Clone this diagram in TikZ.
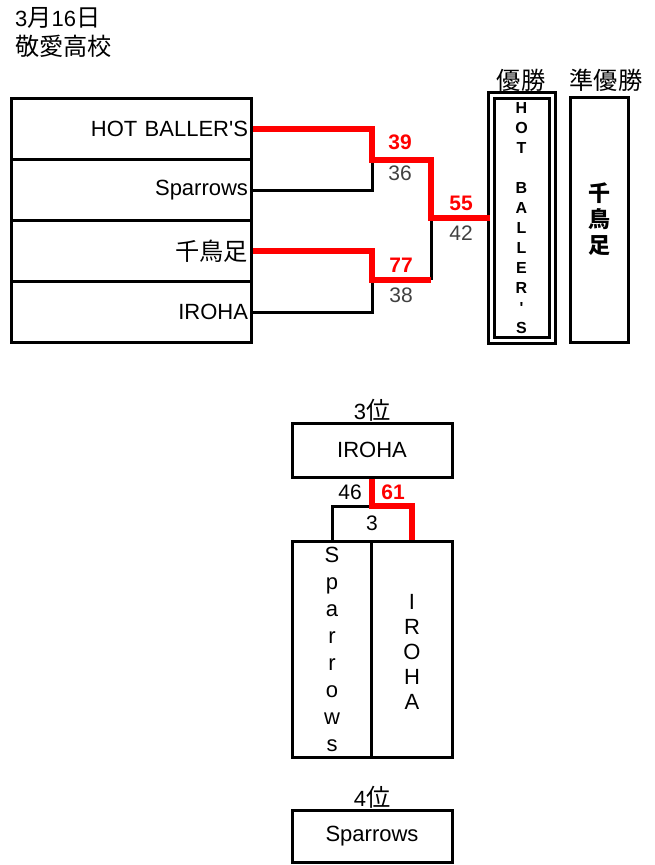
\documentclass[tikz,border=0pt]{standalone}
\usepackage{fontspec}
\setmainfont{Liberation Sans}
\newfontfamily\jpfont{Noto Sans CJK JP}[Scale=1.1]
\usetikzlibrary{positioning}
\definecolor{scoregray}{HTML}{404040}
\tikzset{
  team/.style={draw, line width=3pt, anchor=north west, text width=233pt, align=right,
    inner xsep=3.5pt, inner ysep=0pt, minimum height=61pt},
  box/.style={draw, line width=3pt, inner sep=0pt},
  winline/.style={red, line width=6.5pt},
  loseline/.style={black, line width=3pt},
  winscore/.style={red, font=\fontsize{21}{25}\selectfont\bfseries},
  losescore/.style={scoregray, font=\fontsize{21}{25}\selectfont},
  vert/.style={align=center},
}
\begin{document}
\begin{tikzpicture}[x=1pt, y=-1pt, inner sep=0pt, font=\fontsize{22}{26}\selectfont]
\useasboundingbox (0,0) rectangle (654,865);

% Title
\node[anchor=west] (date) at (15,18) {3{\jpfont 月}16{\jpfont 日}};
\node[anchor=west] (school) at (15,46) {\jpfont 敬愛高校};

% Teams
\node[team] (t1) at (10,97) {HOT BALLER\textquotesingle S};
\node[team] (t2) at (10,158) {Sparrows};
\node[team] (t3) at (10,219) {{\jpfont 千鳥足}};
\node[team] (t4) at (10,280) {IROHA};

% Winner and runner-up
\node[box, double, double distance=3pt, minimum width=61pt, minimum height=245pt] (champ) at (521.5,218) {};
\node[box, minimum width=58pt, minimum height=245pt] (second) at (599,219.5) {};
\node (champlbl) at (521,80) {\jpfont 優勝};
\node (secondlbl) at (606,80) {\jpfont 準優勝};
\node[vert, font=\fontsize{16}{20}\selectfont\bfseries] (champname) at (champ.center)
  {H\\O\\T\\\mbox{}\\B\\A\\L\\L\\E\\R\\\textquotesingle\\S};
\node[vert, font=\fontsize{20}{26}\selectfont\bfseries\jpfont] (secondname) at (second.center)
  {千\\鳥\\足};

% Bracket coordinates
\coordinate (m1) at (372,160);
\coordinate (m2) at (372,280);
\coordinate (f) at (431,218);

% Lost paths
\draw[loseline] (t2.east) -| (m1);
\draw[loseline] (t4.east) -| (m2);
\draw[loseline] (m2 -| f) -- (f);

% Won paths
\draw[winline] (t1.east) -| (m1) -| (f) -- (champ.west |- f);
\draw[winline] (t3.east) -| (m2) -- (m2 -| f);

% Scores
\node[winscore] (s1) at (400,142) {39};
\node[losescore] (s2) at (400,173) {36};
\node[winscore] (s3) at (401,265) {77};
\node[losescore] (s4) at (401,295) {38};
\node[winscore] (s5) at (461,203) {55};
\node[losescore] (s6) at (461,233) {42};

% Third place
\node (thirdlbl) at (372,410) {{3\jpfont 位}};
\node[box, minimum width=160pt, minimum height=54pt] (third) at (372,450) {IROHA};
\node[box, minimum width=79pt, minimum height=216pt] (lt) at (332,649) {};
\node[box, minimum width=81pt, minimum height=216pt] (rt) at (412,649) {};
\node[vert, font=\fontsize{22}{27}\selectfont] (ltname) at (lt.center) {S\\p\\a\\r\\r\\o\\w\\s};
\node[vert, font=\fontsize{22}{25}\selectfont] (rtname) at (412,652) {I\\R\\O\\H\\A};
\coordinate (k) at (412,506);
\draw[loseline] (lt.north) |- (third.south |- k);
\draw[winline] (third.south) |- (k) -- (rt.north);
\node[font=\fontsize{21}{25}\selectfont] (s7) at (350,492) {46};
\node[winscore] (s8) at (393,492) {61};
\node[font=\fontsize{21}{25}\selectfont] (s9) at (372,523) {3};

% Fourth place
\node (fourthlbl) at (372,797) {{4\jpfont 位}};
\node[box, minimum width=160pt, minimum height=52pt] (fourth) at (372,836) {Sparrows};

\end{tikzpicture}
\end{document}
